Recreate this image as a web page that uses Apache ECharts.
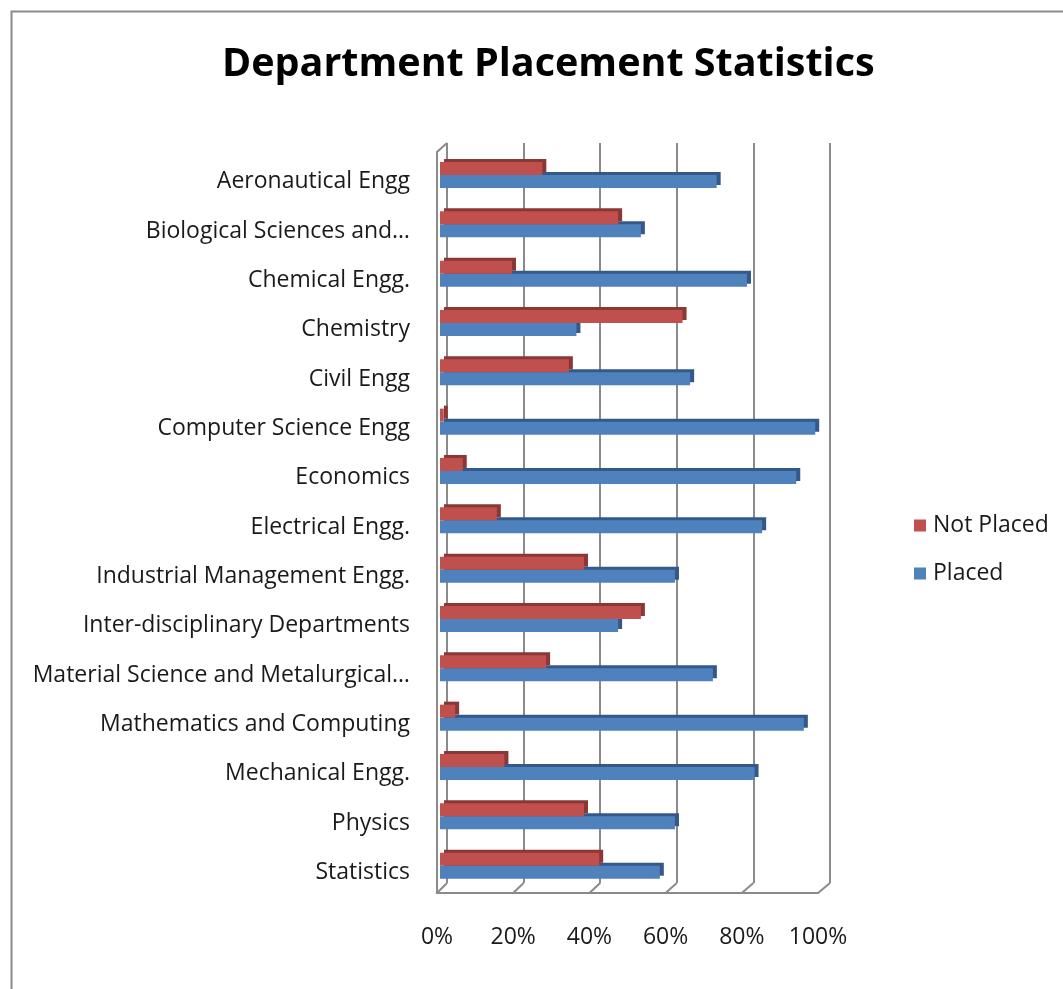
<!DOCTYPE html>
<html>
<head>
<meta charset="utf-8">
<script src="https://cdn.jsdelivr.net/npm/echarts@6/dist/echarts.min.js"></script>
<style>
html,body{margin:0;padding:0;background:#fff;}
#main{width:1063px;height:989px;}
</style>
</head>
<body>
<div id="main"></div>
<script>
const categories = [
  'Aeronautical Engg',
  'Biological Sciences and…',
  'Chemical Engg.',
  'Chemistry',
  'Civil Engg',
  'Computer Science Engg',
  'Economics',
  'Electrical Engg.',
  'Industrial Management Engg.',
  'Inter-disciplinary Departments',
  'Material Science and Metalurgical…',
  'Mathematics and Computing',
  'Mechanical Engg.',
  'Physics',
  'Statistics'
];
const notPlaced = [27, 47, 19, 64, 34, 1, 6, 15, 38, 53, 28, 4, 17, 38, 42];
const placed    = [73, 53, 81, 36, 66, 99, 94, 85, 62, 47, 72, 96, 83, 62, 58];
const xTicks = [0, 20, 40, 60, 80, 100];

const FONT = '"Open Sans", "Noto Sans", sans-serif';
const GRAY = '#8a8a8a';
const TXT = '#1a1a1a';

const chart = echarts.init(document.getElementById('main'), null, {renderer: 'canvas'});

const option = {
  backgroundColor: '#ffffff',
  animation: false,
  title: {
    text: 'Department Placement Statistics',
    left: 217,
    top: 40,
    textStyle: {fontFamily: FONT, fontWeight: 'bold', fontSize: 39.5, color: '#000'}
  },
  legend: {
    orient: 'vertical',
    left: 909,
    top: 509,
    itemWidth: 12,
    itemHeight: 12,
    itemGap: 25,
    icon: 'rect',
    data: ['Not Placed', 'Placed'],
    itemStyle: {shadowColor: 'transparent', shadowOffsetX: 0, shadowOffsetY: 0},
    textStyle: {fontFamily: FONT, fontSize: 23, color: TXT, padding: [0, 0, 0, 2]}
  },
  grid: [
    {left: 440, width: 379, top: 150.3, height: 740},   // bars
    {left: 447, width: 383, top: 143, height: 740},     // back wall
    {left: 437, width: 381, top: 152, height: 741},     // front wall / floor
    {left: 440, width: 379, top: 157, height: 740}      // category labels
  ],
  xAxis: [
    {gridIndex: 0, type: 'value', min: 0, max: 100, interval: 20, show: false},
    {gridIndex: 1, type: 'value', min: 0, max: 100, interval: 20,
      axisLine: {show: false}, axisTick: {show: false}, axisLabel: {show: false},
      splitLine: {show: true, lineStyle: {color: GRAY, width: 2}}},
    {gridIndex: 2, type: 'value', min: 0, max: 100, interval: 20,
      axisLine: {show: true, lineStyle: {color: GRAY, width: 2}},
      axisTick: {show: false}, splitLine: {show: false},
      axisLabel: {margin: 33, fontFamily: FONT, fontSize: 23, color: TXT,
        formatter: v => xTicks.indexOf(v) >= 0 ? v + '%' : ''}},
    {gridIndex: 3, type: 'value', min: 0, max: 100, show: false}
  ],
  yAxis: [
    {gridIndex: 0, type: 'category', data: categories, inverse: true, show: false},
    {gridIndex: 1, type: 'value', show: false},
    {gridIndex: 2, type: 'value', min: 0, max: 1,
      axisLine: {show: true, lineStyle: {color: GRAY, width: 2}},
      axisTick: {show: false}, axisLabel: {show: false}, splitLine: {show: false}},
    {gridIndex: 3, type: 'category', data: categories, inverse: true,
      axisLine: {show: false}, axisTick: {show: false}, splitLine: {show: false},
      axisLabel: {margin: 30, fontFamily: FONT, fontSize: 23, color: TXT}}
  ],
  series: [
    {
      name: 'Not Placed', type: 'bar', xAxisIndex: 0, yAxisIndex: 0,
      data: notPlaced, barWidth: 13, barGap: '0%', z: 4,
      itemStyle: {color: '#C0504D', shadowColor: '#8A3735', shadowBlur: 0, shadowOffsetX: 4, shadowOffsetY: -3}
    },
    {
      name: 'Placed', type: 'bar', xAxisIndex: 0, yAxisIndex: 0,
      data: placed, barWidth: 13, barGap: '0%', z: 3,
      itemStyle: {color: '#4F81BD', shadowColor: '#34588A', shadowBlur: 0, shadowOffsetX: 4, shadowOffsetY: -3}
    }
  ],
  graphic: []
};

chart.setOption(option);

// 3D wall/floor connecting edges, placed via the axes' own scales
const g = [];
g.push({type: 'rect', left: 9, top: 9, shape: {width: 1200, height: 1200}, style: {fill: 'none', stroke: '#8a8a8a', lineWidth: 2}, silent: true});
xTicks.forEach(v => {
  const f = chart.convertToPixel({xAxisIndex: 2, yAxisIndex: 2}, [v, 0]);
  const b = chart.convertToPixel({xAxisIndex: 1, yAxisIndex: 1}, [v, 0]);
  g.push({type: 'line', shape: {x1: f[0], y1: f[1], x2: b[0], y2: b[1]}, style: {stroke: GRAY, lineWidth: 2}, silent: true});
});
const ft = chart.convertToPixel({xAxisIndex: 2, yAxisIndex: 2}, [0, 1]);
const bt = chart.convertToPixel({xAxisIndex: 1, yAxisIndex: 1}, [0, 0]);
g.push({type: 'line', shape: {x1: ft[0], y1: ft[1], x2: bt[0], y2: 143}, style: {stroke: GRAY, lineWidth: 2}, silent: true});
chart.setOption({graphic: g});
</script>
</body>
</html>
